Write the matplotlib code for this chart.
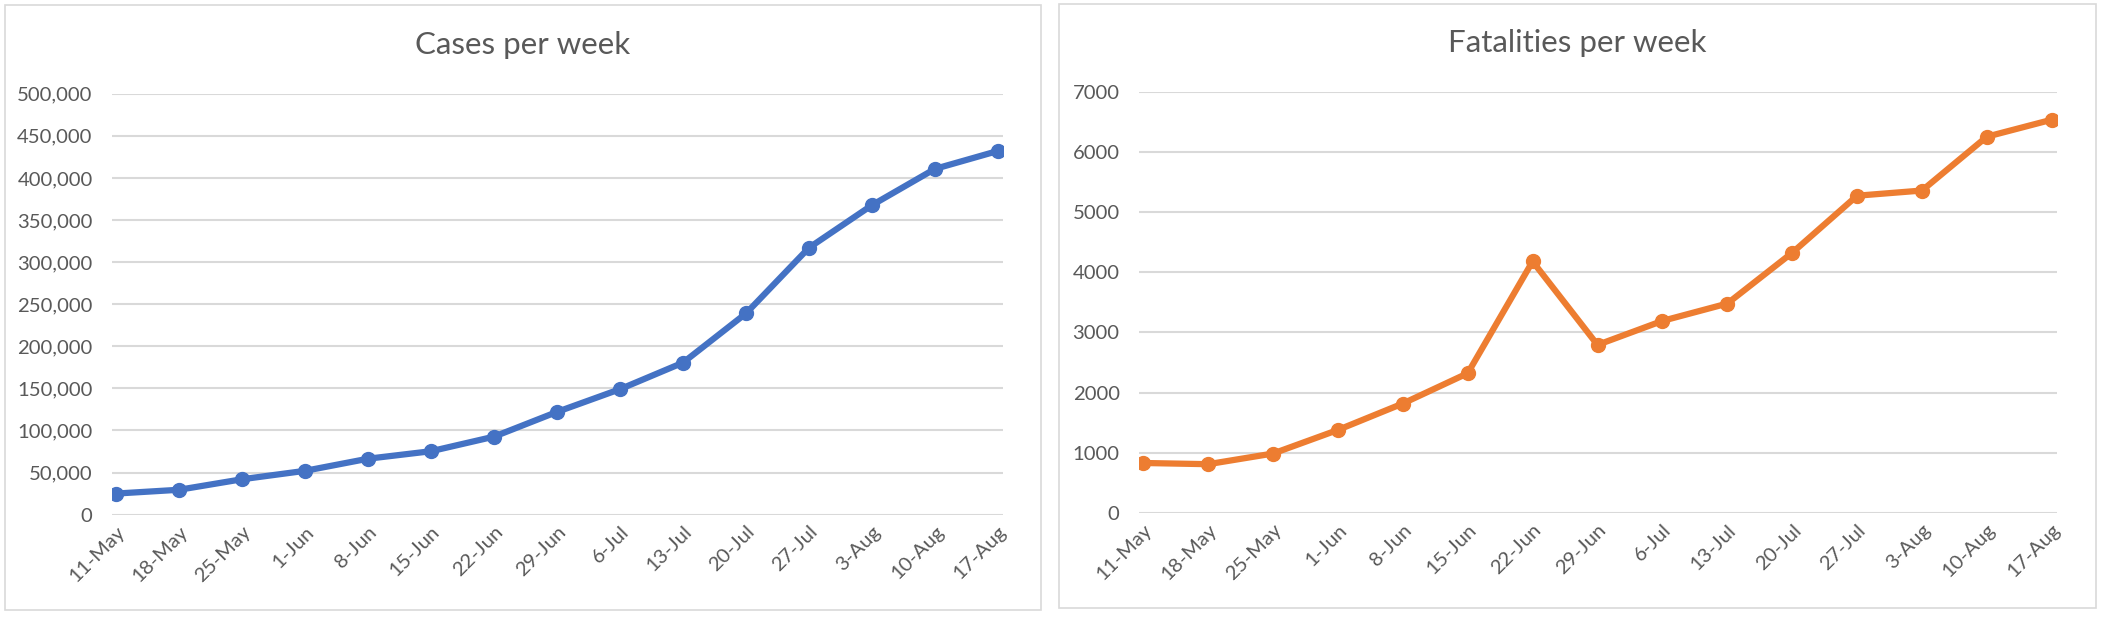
import matplotlib
matplotlib.use("Agg")
import matplotlib.pyplot as plt
from matplotlib.patches import Rectangle
from matplotlib.ticker import FuncFormatter
import matplotlib.transforms as mtransforms

# week labels (shared by both charts)
weeks = ["11-May", "18-May", "25-May", "1-Jun", "8-Jun", "15-Jun", "22-Jun", "29-Jun",
         "6-Jul", "13-Jul", "20-Jul", "27-Jul", "3-Aug", "10-Aug", "17-Aug"]

# values
cases = [25000, 29500, 42000, 52000, 66400, 75300, 92600, 122000,
         149000, 180500, 239000, 317000, 367600, 410700, 432000]
fatalities = [831, 811, 988, 1380, 1819, 2322, 4180, 2793,
              3192, 3480, 4324, 5272, 5358, 6253, 6535]

BLUE = "#4472C4"
ORANGE = "#ED7D31"
GRID = "#D9D9D9"
TEXT = "#595959"

plt.rcParams["font.family"] = ["Lato", "DejaVu Sans"]

fig = plt.figure(figsize=(21.03, 6.17), dpi=100)
W, H = 2103, 617


def px_axes(x0, x1, y0, y1):
    # pixel box -> figure fraction
    return fig.add_axes([x0 / W, 1 - y1 / H, (x1 - x0) / W, (y1 - y0) / H])


def style(ax, values, color, ymax, step, fmt):
    x = list(range(len(weeks)))
    ax.plot(x, values, color=color, linewidth=4.5, marker="o", markersize=10,
            solid_capstyle="round", zorder=3)
    ax.set_xlim(-0.065, len(weeks) - 1 + 0.08)
    ax.set_ylim(0, ymax)
    ax.set_yticks(range(0, ymax + 1, step))
    ax.yaxis.set_major_formatter(FuncFormatter(fmt))
    ax.set_xticks(x)
    ax.set_xticklabels(weeks, rotation=45, ha="right", rotation_mode="anchor")
    offset = mtransforms.ScaledTranslation(7 / 100, -14 / 100, fig.dpi_scale_trans)
    for lbl in ax.get_xticklabels():
        lbl.set_transform(lbl.get_transform() + offset)
    ax.grid(axis="y", color=GRID, linewidth=1.5)
    ax.set_axisbelow(True)
    for s in ax.spines.values():
        s.set_visible(False)
    ax.tick_params(axis="both", length=0, colors=TEXT, labelsize=14.6)
    ax.tick_params(axis="y", pad=14)
    ax.tick_params(axis="x", pad=6)


# left panel: cases
fig.patches.append(Rectangle((5 / W, 1 - 610 / H), (1041 - 5) / W, (610 - 5) / H,
                             transform=fig.transFigure, fill=False,
                             edgecolor=GRID, linewidth=1.2))
ax1 = px_axes(112, 1003, 93.7, 514.6)
style(ax1, cases, BLUE, 500000, 50000, lambda v, p: f"{int(v):,}")
fig.text(523 / W, 1 - 45 / H, "Cases per week", ha="center", va="center",
         fontsize=22.5, color=TEXT)

# right panel: fatalities
fig.patches.append(Rectangle((1059 / W, 1 - 608 / H), (2096 - 1059) / W, (608 - 4) / H,
                             transform=fig.transFigure, fill=False,
                             edgecolor=GRID, linewidth=1.2))
ax2 = px_axes(1139, 2057, 91.7, 513)
style(ax2, fatalities, ORANGE, 7000, 1000, lambda v, p: f"{int(v)}")
fig.text(1577 / W, 1 - 43 / H, "Fatalities per week", ha="center", va="center",
         fontsize=22.5, color=TEXT)

fig.savefig("out.png", dpi=100)
